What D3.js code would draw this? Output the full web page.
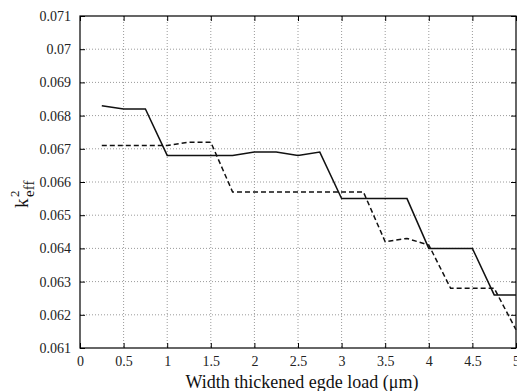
<!DOCTYPE html>
<html>
<head>
<meta charset="utf-8">
<script src="https://cdn.jsdelivr.net/npm/d3@7"></script>
<style>
  body { margin: 0; background: #fff; }
</style>
</head>
<body>
<div id="chart"></div>
<script>
// widths of the thickened edge load (um)
const widths = [0.25, 0.5, 0.75, 1, 1.25, 1.5, 1.75, 2, 2.25, 2.5, 2.75, 3, 3.25, 3.5, 3.75, 4, 4.25, 4.5, 4.75, 5];
// k_eff^2, solid curve
const solidK = [0.0683, 0.0682, 0.0682, 0.0668, 0.0668, 0.0668, 0.0668, 0.0669, 0.0669, 0.0668,
                0.0669, 0.0655, 0.0655, 0.0655, 0.0655, 0.0640, 0.0640, 0.0640, 0.0626, 0.0626];
// k_eff^2, dashed curve
const dashedK = [0.0671, 0.0671, 0.0671, 0.0671, 0.0672, 0.0672, 0.0657, 0.0657, 0.0657, 0.0657,
                 0.0657, 0.0657, 0.0657, 0.0642, 0.0643, 0.0641, 0.0628, 0.0628, 0.0628, 0.06155];
const xTicks = [0, 0.5, 1, 1.5, 2, 2.5, 3, 3.5, 4, 4.5, 5];
const yTicks = [0.061, 0.062, 0.063, 0.064, 0.065, 0.066, 0.067, 0.068, 0.069, 0.07, 0.071];

const SERIF = '"Liberation Serif", "Times New Roman", Times, "DejaVu Serif", serif';
const W = 517, H = 391;
const margin = { top: 16, right: 1, bottom: 43, left: 80 },
    width = W - margin.left - margin.right,
    height = H - margin.top - margin.bottom;

var svg = d3.select("#chart")
    .append("svg")
    .attr("width", W)
    .attr("height", H)
    .attr("font-family", SERIF);

var xScale = d3.scaleLinear().domain([0, 5]).range([0, width]),
    yScale = d3.scaleLinear().domain([0.061, 0.071]).range([height, 0]);

var g = svg.append("g")
    .attr("transform", "translate(" + margin.left + "," + margin.top + ")");

// dotted grid
g.append("g")
    .selectAll("line")
    .data(xTicks.slice(1, -1))
    .enter().append("line")
    .attr("x1", d => xScale(d)).attr("x2", d => xScale(d))
    .attr("y1", 0).attr("y2", height)
    .attr("stroke", "#9a9a9a")
    .attr("stroke-dasharray", "1,2");
g.append("g")
    .selectAll("line")
    .data(yTicks.slice(1, -1))
    .enter().append("line")
    .attr("x1", 0).attr("x2", width)
    .attr("y1", d => yScale(d)).attr("y2", d => yScale(d))
    .attr("stroke", "#9a9a9a")
    .attr("stroke-dasharray", "1,2");

// axes, matlab style: ticks pointing inward on all four sides
const fmt = d => String(+d.toFixed(3));
function styleAxis(sel) {
    sel.attr("font-family", SERIF);
    sel.select(".domain").remove();
    sel.selectAll("line").attr("stroke", "#000");
    sel.selectAll("text")
        .attr("font-family", SERIF)
        .attr("font-size", "14px")
        .attr("fill", "#222");
}
g.append("g")
    .attr("transform", "translate(0," + height + ")")
    .call(d3.axisBottom(xScale).tickValues(xTicks).tickFormat(fmt).tickSizeInner(-5).tickSizeOuter(0).tickPadding(8))
    .call(styleAxis);
g.append("g")
    .call(d3.axisLeft(yScale).tickValues(yTicks).tickFormat(fmt).tickSizeInner(-5).tickSizeOuter(0).tickPadding(9))
    .call(styleAxis);
g.append("g")
    .call(d3.axisTop(xScale).tickValues(xTicks).tickFormat("").tickSizeInner(-5).tickSizeOuter(0))
    .call(styleAxis);
g.append("g")
    .attr("transform", "translate(" + width + ",0)")
    .call(d3.axisRight(yScale).tickValues(yTicks).tickFormat("").tickSizeInner(-5).tickSizeOuter(0))
    .call(styleAxis);

g.append("rect")
    .attr("width", width)
    .attr("height", height)
    .attr("fill", "none")
    .attr("stroke", "#000")
    .attr("stroke-width", 1.2);

// curves
var line = d3.line()
    .x((d, i) => xScale(widths[i]))
    .y(d => yScale(d));

g.append("path")
    .datum(solidK)
    .attr("d", line)
    .attr("fill", "none")
    .attr("stroke", "#111")
    .attr("stroke-width", 1.5);

g.append("path")
    .datum(dashedK)
    .attr("d", line)
    .attr("fill", "none")
    .attr("stroke", "#111")
    .attr("stroke-width", 1.5)
    .attr("stroke-dasharray", "5,3");

// axis labels
svg.append("text")
    .attr("x", margin.left + width / 2 + 4)
    .attr("y", 388)
    .attr("text-anchor", "middle")
    .attr("font-size", "18px")
    .attr("fill", "#111")
    .text("Width thickened egde load (\u03bcm)");

var yl = svg.append("g")
    .attr("transform", "translate(28,208) rotate(-90)");
yl.append("text")
    .attr("x", 0).attr("y", 0)
    .attr("font-size", "19px")
    .attr("fill", "#111")
    .text("k");
yl.append("text")
    .attr("x", 11).attr("y", -9)
    .attr("font-size", "13px")
    .attr("fill", "#111")
    .text("2");
yl.append("text")
    .attr("x", 11).attr("y", 6)
    .attr("font-size", "15px")
    .attr("fill", "#111")
    .text("eff");
</script>
</body>
</html>
